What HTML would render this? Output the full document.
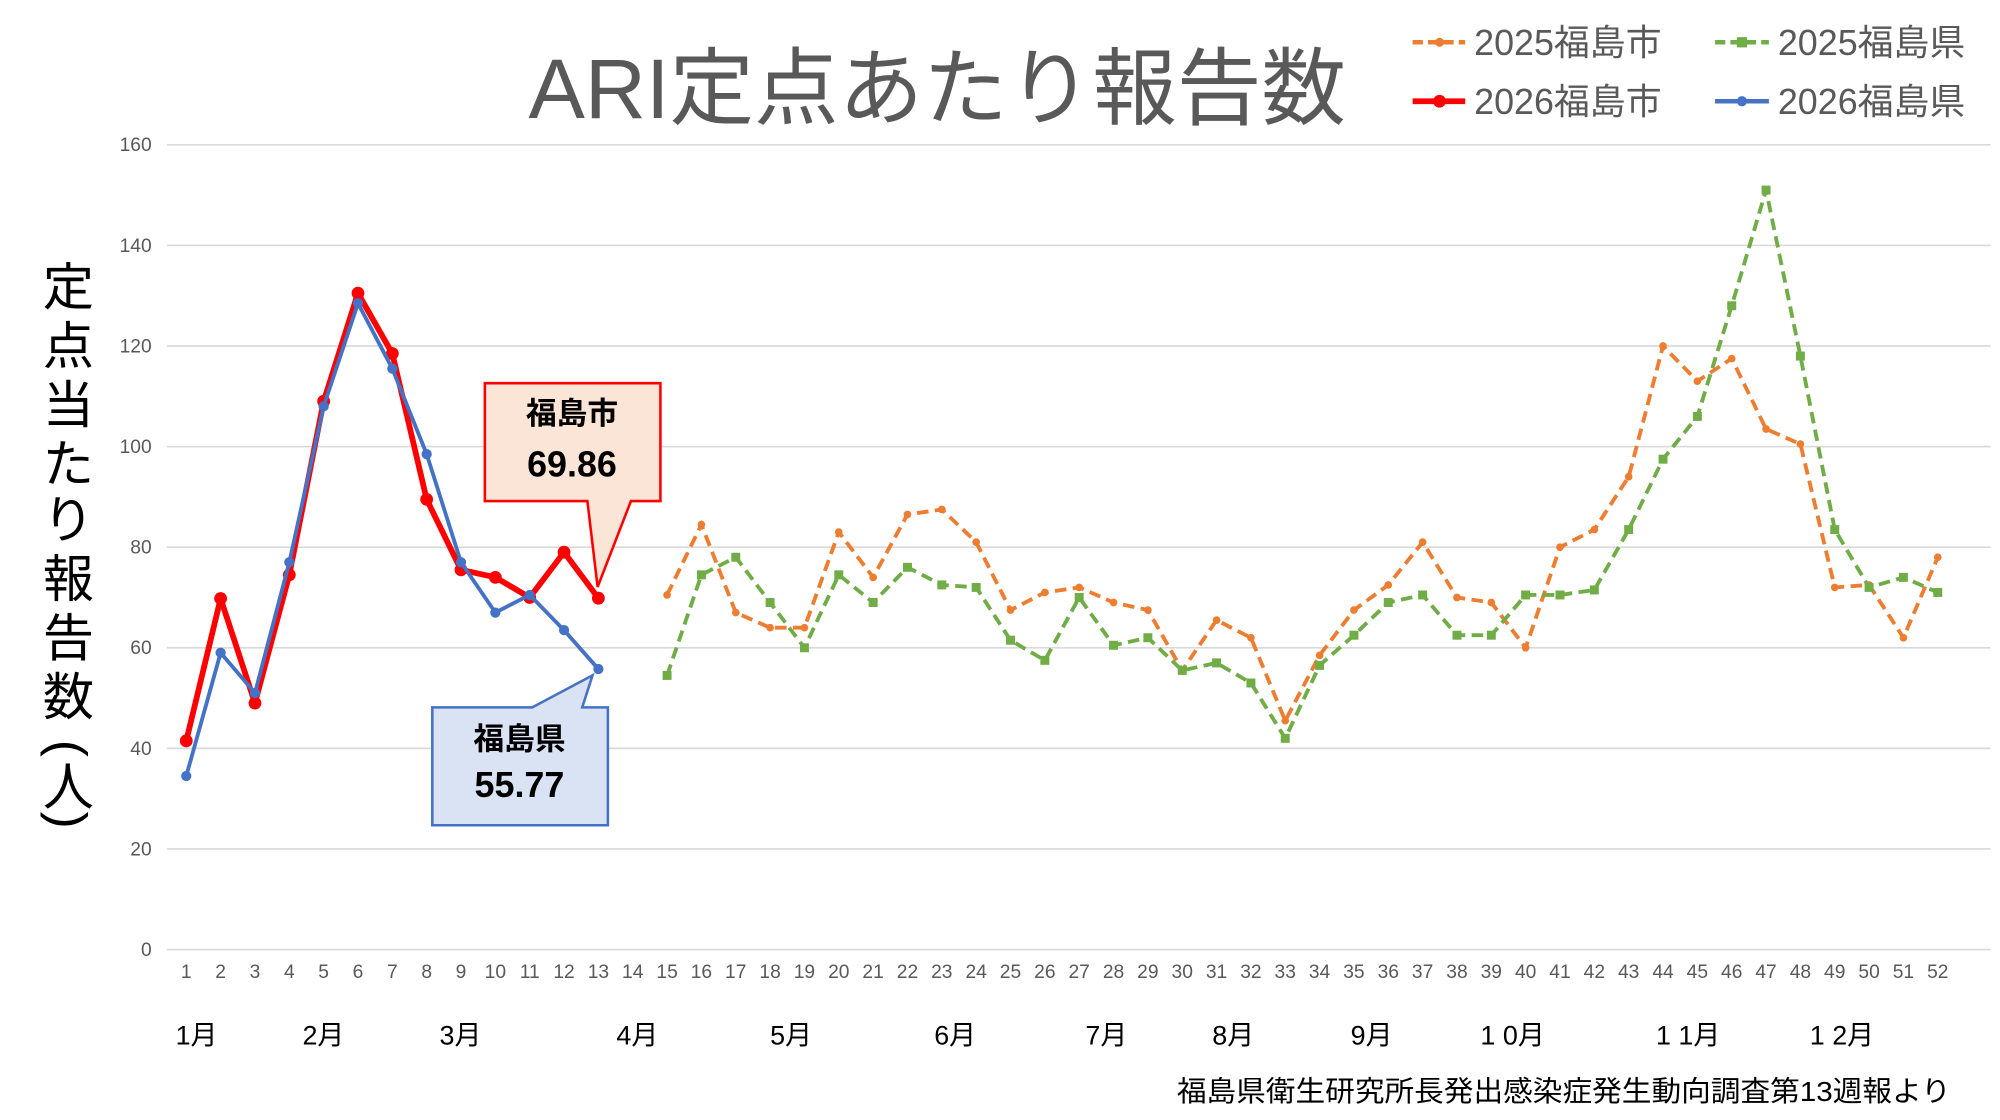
<!DOCTYPE html>
<html><head><meta charset="utf-8"><style>
html,body{margin:0;padding:0;background:#fff;}
svg{display:block;}
text{font-family:"Liberation Sans","Noto Sans CJK JP",sans-serif;}
</style></head><body>
<svg width="2000" height="1120" viewBox="0 0 1560 874" xmlns="http://www.w3.org/2000/svg">
<rect width="1560" height="874" fill="#fff"/>
<g id="grid" stroke="#d9d9d9" stroke-width="1.3"></g>
<g id="ylab" fill="#595959" font-size="15" text-anchor="end"></g>
<g id="xlab" fill="#595959" font-size="15" text-anchor="middle"></g>
<text x="731" y="92" font-size="66" fill="#595959" text-anchor="middle">ARI定点あたり報告数</text>
<g font-size="28" fill="#595959">
<line x1="1102" y1="33" x2="1143" y2="33" stroke="#ed7d31" stroke-width="3.5" stroke-dasharray="8,4"/><circle cx="1123" cy="33" r="3.5" fill="#ed7d31"/>
<text x="1150" y="43">2025福島市</text>
<line x1="1338" y1="33" x2="1380" y2="33" stroke="#70ad47" stroke-width="3.5" stroke-dasharray="8,4"/><rect x="1355" y="29" width="8" height="8" fill="#70ad47"/>
<text x="1387" y="43">2025福島県</text>
<line x1="1102" y1="79" x2="1143" y2="79" stroke="#ff0000" stroke-width="4.5"/><circle cx="1123" cy="79" r="5" fill="#ff0000"/>
<text x="1150" y="89">2026福島市</text>
<line x1="1338" y1="79" x2="1380" y2="79" stroke="#4472c4" stroke-width="3.5"/><circle cx="1359" cy="79" r="4" fill="#4472c4"/>
<text x="1387" y="89">2026福島県</text>
</g>
<g font-size="40" fill="#000" text-anchor="middle">
<text x="53" y="238">定</text><text x="53" y="284">点</text><text x="53" y="330">当</text><text x="53" y="376">た</text><text x="53" y="420">り</text><text x="53" y="466">報</text><text x="53" y="512">告</text><text x="53" y="558">数</text>
<text transform="translate(53,584) rotate(90)" dominant-baseline="central">(</text>
<text x="53" y="628">人</text>
<text transform="translate(53,640) rotate(90)" dominant-baseline="central">)</text>
</g>
<g font-size="21" fill="#000" text-anchor="middle">
<text x="153" y="815">1月</text><text x="252" y="815">2月</text><text x="359" y="815">3月</text><text x="497" y="815">4月</text><text x="617" y="815">5月</text><text x="745" y="815">6月</text><text x="863" y="815">7月</text><text x="962" y="815">8月</text><text x="1070" y="815">9月</text><text x="1180" y="815">1 0月</text><text x="1317" y="815">1 1月</text><text x="1437" y="815">1 2月</text>
</g>
<text x="1522" y="859" font-size="22" fill="#000" text-anchor="end" textLength="604" lengthAdjust="spacingAndGlyphs">福島県衛生研究所長発出感染症発生動向調査第13週報より</text>
<g id="series"></g>
<polygon points="378,299 515,299 515,391 492,391 466,458 458,391 378,391" fill="#fbe5d6" stroke="#ff0000" stroke-width="2"/>
<text x="446" y="331" font-size="24" font-weight="bold" text-anchor="middle" fill="#000">福島市</text>
<text x="446" y="372" font-size="28" font-weight="bold" text-anchor="middle" fill="#000">69.86</text>
<polygon points="337,552 415,552 462,527 454,552 474,552 474,644 337,644" fill="#dae3f3" stroke="#4472c4" stroke-width="2"/>
<text x="405" y="585" font-size="24" font-weight="bold" text-anchor="middle" fill="#000">福島県</text>
<text x="405" y="622" font-size="28" font-weight="bold" text-anchor="middle" fill="#000">55.77</text>
<script>
const NS="http://www.w3.org/2000/svg";
function el(p,t,a,txt){const e=document.createElementNS(NS,t);for(const k in a)e.setAttribute(k,a[k]);if(txt!==undefined)e.textContent=txt;document.getElementById(p).appendChild(e);return e;}
const Y=v=>741-v*3.925, X=w=>145+(w-1)*26.8;
for(let v=0;v<=160;v+=20){el("grid","line",{x1:130,x2:1553,y1:Y(v),y2:Y(v)});el("ylab","text",{x:118,y:Y(v)+5},v);}
for(let w=1;w<=52;w++)el("xlab","text",{x:X(w),y:763},w);
const r26=[41.5,69.8,49,74.5,109,130.5,118.5,89.5,75.5,74,70,79,69.86];
const b26=[34.5,59,51,77,108,128.5,115.5,98.5,77,67,70.5,63.5,55.77];
const o25=[70.5,84.5,67,64,64,83,74,86.5,87.5,81,67.5,71,72,69,67.5,55.5,65.5,62,45.5,58.5,67.5,72.5,81,70,69,60,80,83.5,94,120,113,117.5,103.5,100.5,72,72.5,62,78];
const g25=[54.5,74.5,78,69,60,74.5,69,76,72.5,72,61.5,57.5,70,60.5,62,55.5,57,53,42,56.5,62.5,69,70.5,62.5,62.5,70.5,70.5,71.5,83.5,97.5,106,128,151,118,83.5,72,74,71];
function pts(d,s){return d.map((v,i)=>X(s+i)+","+Y(v)).join(" ");}
el("series","polyline",{points:pts(o25,15),fill:"none",stroke:"#ed7d31","stroke-width":3,"stroke-dasharray":"9,5"});
o25.forEach((v,i)=>el("series","circle",{cx:X(15+i),cy:Y(v),r:3,fill:"#ed7d31"}));
el("series","polyline",{points:pts(g25,15),fill:"none",stroke:"#70ad47","stroke-width":3,"stroke-dasharray":"9,5"});
g25.forEach((v,i)=>el("series","rect",{x:X(15+i)-3.5,y:Y(v)-3.5,width:7,height:7,fill:"#70ad47"}));
el("series","polyline",{points:pts(r26,1),fill:"none",stroke:"#ff0000","stroke-width":4.5,"stroke-linejoin":"round"});
r26.forEach((v,i)=>el("series","circle",{cx:X(1+i),cy:Y(v),r:5,fill:"#ff0000"}));
el("series","polyline",{points:pts(b26,1),fill:"none",stroke:"#4472c4","stroke-width":3,"stroke-linejoin":"round"});
b26.forEach((v,i)=>el("series","circle",{cx:X(1+i),cy:Y(v),r:4,fill:"#4472c4"}));
</script>
</svg>
</body></html>
